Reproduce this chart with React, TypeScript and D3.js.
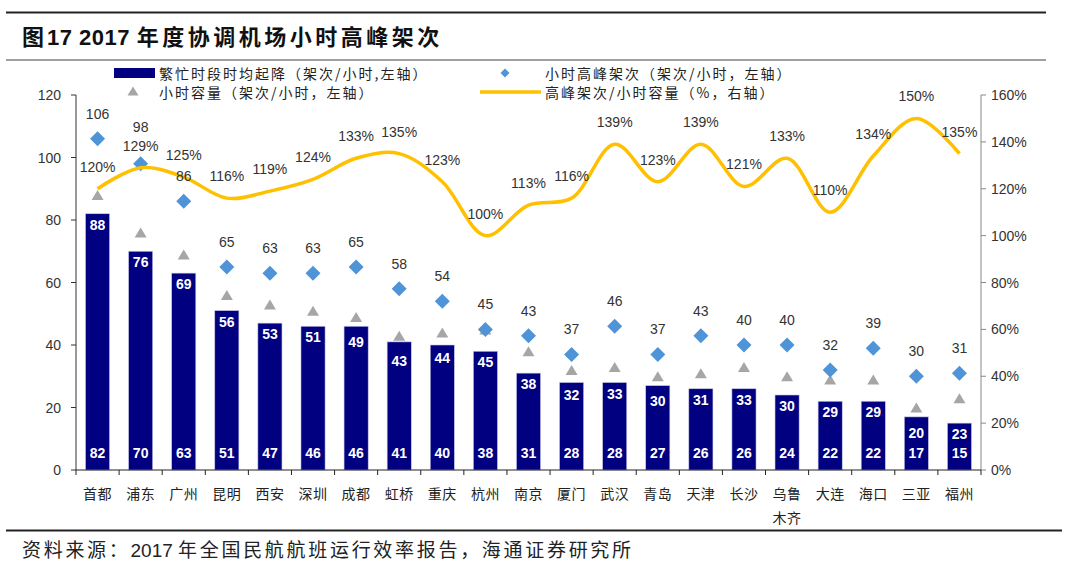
import React from "react";
import * as d3 from "d3";

const categories = ["首都","浦东","广州","昆明","西安","深圳","成都","虹桥","重庆","杭州","南京","厦门","武汉","青岛","天津","长沙","乌鲁木齐","大连","海口","三亚","福州"];
const busyMovements = [82,70,63,51,47,46,46,41,40,38,31,28,28,27,26,26,24,22,22,17,15];
const hourlyCapacity = [88,76,69,56,53,51,49,43,44,45,38,32,33,30,31,33,30,29,29,20,23];
const hourlyPeak = [106,98,86,65,63,63,65,58,54,45,43,37,46,37,43,40,40,32,39,30,31];
const peakRatio = [120,129,125,116,119,124,133,135,123,100,113,116,139,123,139,121,133,110,134,150,135];
const leftTicks = [0,20,40,60,80,100,120];
const rightTicks = [0,20,40,60,80,100,120,140,160];

const NUM = "'Liberation Sans', Arial, 'Noto Sans CJK SC', sans-serif";
const CJK = "'Noto Sans CJK SC', sans-serif";

export default function App() {
  const x0 = 76, x1 = 981, yTop = 95, yBot = 470;
  const x = d3.scaleBand<string>().domain(categories).range([x0, x1]).paddingInner(0.44).paddingOuter(0.22);
  const xb = d3.scaleBand<string>().domain(categories).range([x0, x1]);
  const yL = d3.scaleLinear().domain([0, 120]).range([yBot, yTop]);
  const yR = d3.scaleLinear().domain([0, 160]).range([yBot, yTop]);
  const cx = (c: string) => (xb(c) as number) + xb.bandwidth() / 2;

  const line = d3.line<number>()
    .x((_, i) => cx(categories[i]))
    .y((d) => yR(d))
    .curve(d3.curveCatmullRom.alpha(0.5));

  const diamond = (px: number, py: number, r: number) => `M${px},${py - r}L${px + r},${py}L${px},${py + r}L${px - r},${py}Z`;
  const tri = (px: number, py: number, w: number, h: number) => `M${px},${py - h / 2}L${px + w / 2},${py + h / 2}L${px - w / 2},${py + h / 2}Z`;

  const ratioLabelY = (i: number) => yR(peakRatio[i]) - 17;
  const peakLabelY = (i: number) => {
    const y = yL(hourlyPeak[i]) - 20;
    const r = ratioLabelY(i);
    return Math.abs(y - r) < 16 ? r - 19 : y;
  };
  const capLabelCenter = (i: number) => Math.max(yL(hourlyCapacity[i]) + 25, yL(busyMovements[i]) + 11);

  const legendText = { fontFamily: CJK, fontSize: 14, letterSpacing: 2, fill: "#222" } as const;

  return (
    <svg width={1080} height={576} style={{ position: "absolute", left: 0, top: 0, background: "#fff" }}>
      {/* frame lines */}
      <line x1={6} x2={1046} y1={12.5} y2={12.5} stroke="#222" strokeWidth={2.2} />
      <line x1={6} x2={1046} y1={60} y2={60} stroke="#444" strokeWidth={1.2} />
      <line x1={6} x2={1062} y1={530.5} y2={530.5} stroke="#222" strokeWidth={2.2} />
      <text x={22} y={45} fontFamily={NUM} fontWeight="bold" fontSize={22} fill="#111">
        <tspan letterSpacing={3}>图</tspan>
        <tspan letterSpacing={0.5}>17 2017 </tspan>
        <tspan letterSpacing={3.5}>年度协调机场小时高峰架次</tspan>
      </text>
      <text x={22} y={557} fontFamily={NUM} fontSize={19} fill="#222">
        <tspan letterSpacing={2.7}>资料来源：</tspan>
        <tspan letterSpacing={0}>2017 </tspan>
        <tspan letterSpacing={2.7}>年全国民航航班运行效率报告，海通证券研究所</tspan>
      </text>

      {/* legend */}
      <rect x={114} y={68} width={41} height={10} fill="#000080" />
      <text x={159} y={73} dominantBaseline="central" {...legendText}>繁忙时段时均起降（架次/小时,左轴）</text>
      <path d={tri(133, 91, 11, 9)} fill="#A6A6A6" />
      <text x={159} y={91.5} dominantBaseline="central" {...legendText}>小时容量（架次/小时，左轴）</text>
      <path d={diamond(505, 73, 4.5)} fill="#4F94D6" />
      <text x={545} y={73} dominantBaseline="central" {...legendText}>小时高峰架次（架次/小时，左轴）</text>
      <line x1={480} x2={541} y1={92} y2={92} stroke="#FFC000" strokeWidth={3.5} />
      <text x={545} y={91.5} dominantBaseline="central" {...legendText}>高峰架次/小时容量（%，右轴）</text>

      {/* left axis */}
      <line x1={x0} x2={x0} y1={yTop} y2={yBot} stroke="#333" />
      {leftTicks.map((t) => (
        <g key={"l" + t}>
          <line x1={x0 - 5} x2={x0} y1={yL(t)} y2={yL(t)} stroke="#333" />
          <text x={61} y={yL(t)} dominantBaseline="central" textAnchor="end" fontFamily={NUM} fontSize={14} fill="#333">{t}</text>
        </g>
      ))}
      {/* right axis */}
      <line x1={x1} x2={x1} y1={yTop} y2={yBot} stroke="#888" />
      {rightTicks.map((t) => (
        <g key={"r" + t}>
          <line x1={x1} x2={x1 + 5} y1={yR(t)} y2={yR(t)} stroke="#888" />
          <text x={991} y={yR(t)} dominantBaseline="central" fontFamily={NUM} fontSize={14} fill="#333">{t}%</text>
        </g>
      ))}

      {/* bars */}
      {categories.map((c, i) => (
        <rect key={"b" + c} x={x(c)} y={yL(busyMovements[i])} width={x.bandwidth()} height={yBot - yL(busyMovements[i])} fill="#000080" stroke="#c8c8e8" strokeWidth={0.6} />
      ))}
      {/* x axis */}
      <line x1={x0} x2={x1} y1={yBot} y2={yBot} stroke="#222" />
      {categories.map((c) => (
        <line key={"t" + c} x1={xb(c) as number} x2={xb(c) as number} y1={yBot} y2={yBot + 5} stroke="#222" />
      ))}
      <line x1={x1} x2={x1} y1={yBot} y2={yBot + 5} stroke="#222" />
      {categories.map((c) => {
        const lines = c.length > 2 ? [c.slice(0, 2), c.slice(2)] : [c];
        return lines.map((s, k) => (
          <text key={"x" + c + k} x={cx(c)} y={499 + k * 24} textAnchor="middle" fontFamily={CJK} fontSize={14} letterSpacing={0.5} fill="#222">{s}</text>
        ));
      })}

      {/* triangles */}
      {categories.map((c, i) => (
        <path key={"tr" + c} d={tri(cx(c), yL(hourlyCapacity[i]), 12, 10)} fill="#A6A6A6" />
      ))}
      {/* diamonds */}
      {categories.map((c, i) => (
        <path key={"d" + c} d={diamond(cx(c), yL(hourlyPeak[i]), 7.5)} fill="#4F94D6" />
      ))}
      {/* ratio line */}
      <path d={line(peakRatio) || ""} fill="none" stroke="#FFC000" strokeWidth={3.5} />

      {/* labels */}
      {categories.map((c, i) => (
        <text key={"bl" + c} x={cx(c)} y={yBot - 12} textAnchor="middle" fontFamily={NUM} fontWeight="bold" fontSize={14} fill="#fff">{busyMovements[i]}</text>
      ))}
      {categories.map((c, i) => (
        <text key={"cl" + c} x={cx(c)} y={capLabelCenter(i)} dominantBaseline="central" textAnchor="middle" fontFamily={NUM} fontWeight="bold" fontSize={14} fill="#fff">{hourlyCapacity[i]}</text>
      ))}
      {categories.map((c, i) => (
        <text key={"pl" + c} x={cx(c)} y={peakLabelY(i)} textAnchor="middle" fontFamily={NUM} fontSize={14} fill="#333">{hourlyPeak[i]}</text>
      ))}
      {categories.map((c, i) => (
        <text key={"rl" + c} x={cx(c)} y={ratioLabelY(i)} textAnchor="middle" fontFamily={NUM} fontSize={14} fill="#333">{peakRatio[i]}%</text>
      ))}
    </svg>
  );
}
